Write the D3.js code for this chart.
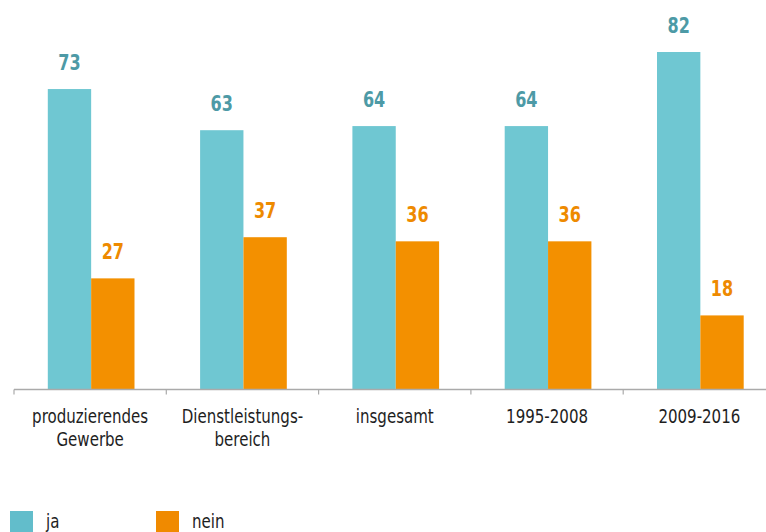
<!DOCTYPE html>
<html>
<head>
<meta charset="utf-8">
<script src="https://cdn.jsdelivr.net/npm/d3@7"></script>
<style>
  body { margin: 0; background: #fff; }
  svg { display: block; }
  text { font-family: "DejaVu Sans Condensed", "Roboto", sans-serif; }
</style>
</head>
<body>
<svg id="chart" width="766" height="532"></svg>
<script>
const categories = [["produzierendes", "Gewerbe"], ["Dienstleistungs-", "bereich"], ["insgesamt"], ["1995-2008"], ["2009-2016"]];
const seriesNames = ["ja", "nein"];
const jaValues = [73, 63, 64, 64, 82];
const neinValues = [27, 37, 36, 36, 18];

const barColors = { ja: "#6fc7d2", nein: "#f39000" };
const labelColors = { ja: "#4d9aa6", nein: "#ee8a00" };

const svg = d3.select('#chart');
const margin = { left: 14, right: -9.5, axisY: 389.5 };
const width = 766 - margin.left - margin.right;
const squeeze = 0.88; // narrow the font like the condensed original

const rows = categories.map((c, i) => ({ key: c.join(' '), lines: c, ja: jaValues[i], nein: neinValues[i] }));

const x0 = d3.scaleBand()
  .domain(rows.map(d => d.key))
  .range([margin.left, margin.left + width])
  .paddingInner(0).paddingOuter(0);

const x1 = d3.scaleBand()
  .domain(seriesNames)
  .range([0, 86.7]);
const groupOffset = (x0.bandwidth() - 86.7) / 2 + 1;

const y = d3.scaleLinear()
  .domain([0, 82])
  .range([margin.axisY, 52]);

const groups = svg.selectAll('.group')
  .data(rows)
  .enter()
  .append('g')
    .attr('class', 'group')
    .attr('transform', d => 'translate(' + (x0(d.key) + groupOffset) + ',0)');

seriesNames.forEach(s => {
  groups.append('rect')
    .attr('x', x1(s))
    .attr('y', d => y(d[s]))
    .attr('width', x1.bandwidth())
    .attr('height', d => y(0) - y(d[s]))
    .attr('fill', barColors[s]);

  groups.append('text')
    .attr('transform', d => 'translate(' + (x1(s) + x1.bandwidth() / 2) + ',' + (y(d[s]) - 19) + ') scale(0.85,1)')
    .attr('text-anchor', 'middle')
    .attr('font-size', '21px')
    .attr('font-weight', 'bold')
    .attr('fill', labelColors[s])
    .text(d => d[s]);
});

// axis line with ticks at band edges
const axis = svg.append('g');
axis.append('line')
  .attr('x1', margin.left).attr('x2', 766)
  .attr('y1', margin.axisY).attr('y2', margin.axisY)
  .attr('stroke', '#aaa').attr('stroke-width', 1.5);
axis.selectAll('.tick')
  .data(rows)
  .enter()
  .append('line')
    .attr('x1', d => x0(d.key)).attr('x2', d => x0(d.key))
    .attr('y1', margin.axisY).attr('y2', margin.axisY + 5)
    .attr('stroke', '#aaa').attr('stroke-width', 1.2);

// category labels
const catLabels = svg.selectAll('.cat')
  .data(rows)
  .enter()
  .append('text')
    .attr('class', 'cat')
    .attr('transform', d => 'translate(' + (x0(d.key) + x0.bandwidth() / 2) + ',0) scale(' + squeeze + ',1)')
    .attr('text-anchor', 'middle')
    .attr('font-size', '19px')
    .attr('fill', '#1e1e1e');
catLabels.selectAll('tspan')
  .data(d => d.lines)
  .enter()
  .append('tspan')
    .attr('x', 0)
    .attr('y', (d, i) => 423 + i * 23)
    .text(d => d);

// legend
const legend = svg.selectAll('.legend')
  .data(seriesNames)
  .enter()
  .append('g')
    .attr('class', 'legend')
    .attr('transform', (d, i) => 'translate(' + (10 + i * 146) + ',511)');
legend.append('rect')
  .attr('width', 23).attr('height', 23)
  .attr('fill', d => d === 'ja' ? '#62bdcb' : '#f08a00');
legend.append('text')
  .attr('transform', 'translate(36,17) scale(' + squeeze + ',1)')
  .attr('font-size', '19px')
  .attr('fill', '#1e1e1e')
  .text(d => d);
</script>
</body>
</html>
